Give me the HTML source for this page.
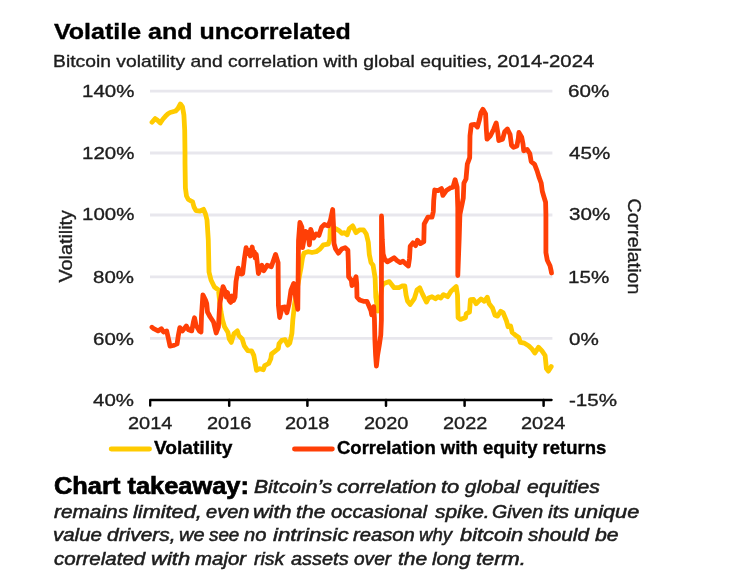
<!DOCTYPE html>
<html lang="en"><head><meta charset="utf-8"><title>Volatile and uncorrelated</title>
<style>
*{margin:0;padding:0;box-sizing:border-box}
h1,h2,p{font-size:inherit;font-weight:normal}
html,body{width:736px;height:573px;background:#fff;overflow:hidden}
body{filter:blur(0.4px);position:relative;font-family:"Liberation Sans",sans-serif;color:#1d1d1d}
.t{position:absolute;white-space:nowrap;line-height:1;transform-origin:0 0;font-weight:normal;font-style:normal;display:block;-webkit-text-stroke:0.35px currentColor}
.rot{position:absolute;width:0;height:0}
.rot span{position:absolute;left:0;white-space:nowrap;line-height:1;transform-origin:0 0;font-size:18.4px;-webkit-text-stroke:0.35px currentColor}
svg{position:absolute;left:0;top:0}
</style></head>
<body>
<svg width="736" height="573" viewBox="0 0 736 573">
<line x1="150" y1="91.2" x2="552.4" y2="91.2" stroke="#e8e7ed" stroke-width="2.8"/>
<line x1="150" y1="153" x2="552.4" y2="153" stroke="#e8e7ed" stroke-width="2.8"/>
<line x1="150" y1="215" x2="552.4" y2="215" stroke="#e8e7ed" stroke-width="2.8"/>
<line x1="150" y1="276.9" x2="552.4" y2="276.9" stroke="#e8e7ed" stroke-width="2.8"/>
<line x1="150" y1="338.4" x2="552.4" y2="338.4" stroke="#e8e7ed" stroke-width="2.8"/>
<g fill="none" stroke-linejoin="round" stroke-linecap="round" stroke-width="4.8">
<path d="M152.0,122.3 L155.2,118.6 L157.5,120.3 L160.3,123.0 L163.0,119.0 L165.4,116.3 L168.0,113.8 L170.2,112.5 L175.6,111.0 L178.0,108.5 L180.4,104.0 L182.5,107.0 L183.9,115.0 L184.7,130.0 L185.0,153.0 L185.0,163.0 L185.4,188.0 L186.5,196.0 L188.3,199.5 L192.6,201.8 L194.0,207.0 L196.0,210.6 L200.0,211.0 L203.5,209.3 L205.5,214.0 L207.0,220.0 L208.3,240.0 L209.0,272.0 L211.0,280.0 L214.4,287.0 L218.5,290.0 L219.5,300.0 L221.0,312.0 L222.5,320.0 L224.5,326.8 L227.9,332.2 L229.3,339.0 L231.3,342.4 L234.0,333.6 L237.4,330.9 L238.8,335.6 L242.2,339.0 L244.3,345.9 L247.7,350.6 L251.7,351.0 L253.8,355.4 L255.8,366.3 L256.5,370.3 L259.9,368.7 L263.3,369.7 L264.7,365.6 L268.7,363.5 L270.8,358.8 L271.5,354.0 L274.9,351.3 L278.3,348.6 L279.0,343.8 L281.7,340.4 L285.1,339.7 L287.8,345.2 L289.8,343.1 L291.9,333.6 L292.8,320.0 L293.7,312.0 L294.4,305.2 L296.0,295.0 L298.0,284.0 L300.0,273.0 L301.2,266.7 L302.5,258.0 L304.0,253.0 L308.0,251.7 L312.0,252.5 L316.2,251.7 L320.0,249.0 L323.4,244.9 L328.2,244.2 L329.8,239.5 L330.2,229.9 L332.0,228.0 L335.6,228.6 L339.0,230.6 L341.8,233.3 L344.5,232.7 L347.2,234.7 L349.3,228.6 L352.7,225.9 L356.0,232.7 L359.5,229.9 L363.5,229.9 L366.3,234.0 L368.3,242.2 L369.3,254.4 L371.0,262.6 L373.1,265.3 L374.4,273.5 L375.1,278.0 L375.8,297.2 L377.8,311.0 L380.0,300.0 L382.0,286.0 L383.9,283.6 L389.4,281.6 L394.1,287.7 L398.9,287.7 L402.0,286.0 L404.8,285.8 L406.1,295.3 L407.5,301.0 L410.2,304.5 L414.3,298.6 L417.0,289.9 L419.7,287.8 L422.4,293.9 L426.5,302.1 L428.6,298.0 L432.0,296.7 L435.4,298.7 L438.1,296.7 L440.8,298.0 L443.5,294.6 L447.6,296.7 L451.0,291.2 L456.2,286.5 L457.5,295.0 L458.1,317.8 L460.5,319.4 L465.4,317.8 L466.3,313.6 L469.5,312.0 L470.4,299.7 L473.5,299.4 L476.1,303.8 L481.0,298.9 L484.3,301.3 L487.3,297.2 L489.2,303.8 L492.5,307.9 L495.0,315.3 L497.5,316.1 L500.7,311.2 L503.2,312.8 L506.5,321.0 L508.1,326.8 L510.6,326.0 L512.2,332.5 L516.3,335.8 L518.8,337.5 L520.4,342.4 L524.5,343.2 L528.6,345.7 L531.9,348.9 L534.9,353.0 L538.5,347.3 L541.8,350.6 L545.1,355.5 L546.4,368.6 L548.3,371.1 L551.2,366.6" stroke="#ffcb00"/>
<path d="M152.0,327.2 L153.7,328.7 L158.0,330.9 L161.3,328.7 L163.5,332.0 L166.7,330.9 L168.4,338.5 L170.0,346.1 L173.3,345.5 L177.1,343.9 L178.2,336.3 L179.8,327.6 L182.5,330.9 L186.3,326.0 L188.5,329.8 L191.7,330.9 L193.4,322.2 L194.5,317.8 L196.1,325.4 L199.3,330.9 L201.0,332.0 L201.5,316.0 L202.9,294.8 L205.5,300.0 L206.7,303.5 L207.5,312.0 L210.2,317.0 L213.5,322.0 L216.2,333.0 L218.4,327.0 L219.8,303.5 L223.0,286.6 L225.0,291.0 L226.3,297.0 L227.5,292.5 L229.0,300.0 L230.7,302.4 L232.0,296.0 L233.5,300.5 L235.0,297.0 L236.0,281.7 L238.3,268.2 L239.3,273.0 L241.5,274.1 L242.7,273.5 L244.5,258.0 L246.1,247.6 L247.4,253.5 L248.8,250.3 L250.3,256.0 L252.2,247.0 L253.4,255.0 L254.3,251.7 L255.3,258.0 L256.3,254.4 L258.4,273.5 L261.8,265.3 L263.8,270.7 L267.2,265.3 L271.3,266.7 L275.6,254.4 L278.1,262.6 L278.4,305.2 L279.7,317.5 L282.2,307.3 L285.0,307.0 L286.9,312.7 L289.0,303.9 L291.0,290.2 L293.7,283.4 L295.8,298.4 L297.8,309.3 L298.5,240.8 L299.9,222.4 L301.9,227.2 L302.6,247.6 L305.3,231.3 L308.0,233.0 L309.4,244.9 L310.7,229.3 L313.5,238.1 L316.2,234.0 L318.9,235.4 L321.6,227.2 L324.4,224.5 L328.4,225.9 L330.5,220.0 L332.7,209.5 L333.6,227.2 L334.0,243.5 L335.6,249.0 L338.4,253.1 L341.8,249.0 L345.2,247.6 L347.9,250.3 L348.3,261.2 L348.6,276.8 L351.3,280.2 L352.0,285.6 L354.0,282.2 L356.0,276.8 L356.7,283.6 L357.0,297.2 L359.5,299.9 L363.5,301.3 L366.9,301.3 L369.0,306.0 L371.0,310.8 L371.7,314.9 L373.7,306.7 L374.4,317.6 L374.9,340.0 L375.6,355.0 L376.4,366.0 L377.6,355.0 L379.3,345.0 L380.8,335.0 L381.4,320.0 L381.5,216.0 L382.3,240.0 L383.1,254.0 L384.6,259.0 L387.3,261.9 L390.7,259.9 L394.1,257.8 L396.9,260.5 L400.3,262.6 L403.0,261.2 L405.7,263.9 L408.4,266.0 L409.5,258.5 L410.2,246.3 L412.9,242.9 L415.6,245.6 L417.4,240.2 L420.4,243.6 L423.8,241.6 L424.2,224.0 L427.9,217.1 L432.0,217.1 L433.3,211.7 L433.7,200.8 L434.7,190.0 L438.1,190.6 L441.5,188.6 L442.9,195.4 L446.3,190.6 L450.3,187.9 L453.0,187.2 L455.1,179.7 L457.1,187.2 L457.8,207.6 L457.8,275.5 L459.2,238.0 L459.9,214.4 L461.9,204.9 L463.3,198.1 L463.9,183.1 L466.0,179.0 L467.3,164.1 L469.7,157.6 L470.0,135.8 L471.3,124.9 L474.7,124.3 L477.4,127.0 L479.5,119.5 L480.9,112.7 L482.9,109.3 L485.6,114.0 L486.3,129.0 L487.0,139.2 L490.4,135.8 L493.8,129.0 L496.2,122.9 L497.9,133.1 L498.8,140.6 L502.6,139.2 L504.7,131.7 L507.4,129.0 L510.1,134.5 L511.5,145.3 L513.5,147.4 L516.9,146.0 L518.3,138.5 L518.9,132.4 L521.7,137.2 L523.0,144.0 L523.7,150.8 L527.1,149.4 L529.8,153.5 L531.2,161.7 L534.6,164.4 L537.1,170.9 L539.2,177.7 L541.2,183.1 L542.3,191.3 L543.9,196.7 L545.6,202.2 L545.9,214.4 L545.9,252.6 L547.3,260.2 L550.0,265.7 L551.2,271.1 L551.5,273.0" stroke="#ff3f06"/>
</g>
<path d="M150.2,405.7 V400.0 H551.6" stroke="#000" stroke-width="2.3" stroke-linejoin="round" stroke-linecap="round" fill="none"/>
<path d="M229.2,400.0 v5.7 M307.4,400.0 v5.7 M386,400.0 v5.7 M464.6,400.0 v5.7 M543.6,400.0 v5.7" stroke="#000" stroke-width="2.5" stroke-linecap="round" fill="none"/>
<path d="M111.2,449 H149.5" stroke="#ffcb00" stroke-width="4.9" stroke-linecap="round" fill="none"/>
<path d="M294.5,449 H332.3" stroke="#ff3f06" stroke-width="4.9" stroke-linecap="round" fill="none"/>
</svg>
<h1 class="t" style="left:53.79px;top:21.00px;font-size:22.6px;transform:scaleX(1.1066);font-weight:bold;color:#000;">Volatile and uncorrelated</h1>
<h2><span class="t" style="left:53.11px;top:53.00px;font-size:17px;transform:scaleX(1.1362);">Bitcoin volatility and correlation with global equities,</span> <span class="t" style="left:496.79px;top:53.00px;font-size:17px;transform:scaleX(1.1964);">2014-2024</span></h2>
<div class="t" style="left:81.61px;top:83.00px;font-size:17.4px;transform:scaleX(1.1761);">140%</div>
<div class="t" style="left:81.61px;top:145.00px;font-size:17.4px;transform:scaleX(1.1761);">120%</div>
<div class="t" style="left:81.61px;top:206.00px;font-size:17.4px;transform:scaleX(1.1761);">100%</div>
<div class="t" style="left:92.87px;top:269.00px;font-size:17.4px;transform:scaleX(1.1761);">80%</div>
<div class="t" style="left:92.87px;top:331.00px;font-size:17.4px;transform:scaleX(1.1761);">60%</div>
<div class="t" style="left:92.87px;top:392.00px;font-size:17.4px;transform:scaleX(1.1761);">40%</div>
<div class="t" style="left:568.48px;top:83.00px;font-size:17.4px;transform:scaleX(1.1848);">60%</div>
<div class="t" style="left:568.98px;top:145.00px;font-size:17.4px;transform:scaleX(1.1848);">45%</div>
<div class="t" style="left:568.57px;top:206.00px;font-size:17.4px;transform:scaleX(1.1848);">30%</div>
<div class="t" style="left:567.90px;top:269.00px;font-size:17.4px;transform:scaleX(1.1848);">15%</div>
<div class="t" style="left:568.73px;top:331.00px;font-size:17.4px;transform:scaleX(1.1848);">0%</div>
<div class="t" style="left:569.11px;top:392.00px;font-size:17.4px;transform:scaleX(1.1848);">-15%</div>
<div class="t" style="left:127.79px;top:415.00px;font-size:17.4px;transform:scaleX(1.1477);">2014</div>
<div class="t" style="left:207.11px;top:415.00px;font-size:17.4px;transform:scaleX(1.1477);">2016</div>
<div class="t" style="left:285.30px;top:415.00px;font-size:17.4px;transform:scaleX(1.1477);">2018</div>
<div class="t" style="left:363.87px;top:415.00px;font-size:17.4px;transform:scaleX(1.1477);">2020</div>
<div class="t" style="left:442.51px;top:415.00px;font-size:17.4px;transform:scaleX(1.1477);">2022</div>
<div class="t" style="left:521.19px;top:415.00px;font-size:17.4px;transform:scaleX(1.1477);">2024</div>
<div class="t" style="left:153.82px;top:440.00px;font-size:17.8px;transform:scaleX(1.0768);font-weight:bold;color:#000;">Volatility</div>
<div class="t" style="left:337.49px;top:440.00px;font-size:17.8px;transform:scaleX(1.0406);font-weight:bold;color:#000;">Correlation with equity returns</div>
<p><b class="t" style="left:53.90px;top:474.00px;font-size:23.8px;transform:scaleX(1.0678);font-weight:bold;color:#000;-webkit-text-stroke-width:0.7px;">Chart takeaway:</b> <i class="t" style="left:254.17px;top:477.00px;font-size:19px;transform:scaleX(1.1131);font-style:italic;-webkit-text-stroke-width:0.55px;">Bitcoin’s</i> <i class="t" style="left:337.45px;top:477.00px;font-size:19px;transform:scaleX(1.1210);font-style:italic;-webkit-text-stroke-width:0.55px;">correlation</i> <i class="t" style="left:441.23px;top:477.00px;font-size:19px;transform:scaleX(1.1515);font-style:italic;-webkit-text-stroke-width:0.55px;">to</i> <i class="t" style="left:465.04px;top:477.00px;font-size:19px;transform:scaleX(1.0784);font-style:italic;-webkit-text-stroke-width:0.55px;">global</i> <i class="t" style="left:526.64px;top:477.00px;font-size:19px;transform:scaleX(1.1115);font-style:italic;-webkit-text-stroke-width:0.55px;">equities</i> <i class="t" style="left:54.33px;top:502.00px;font-size:19px;transform:scaleX(1.0963);font-style:italic;-webkit-text-stroke-width:0.55px;">remains</i> <i class="t" style="left:132.92px;top:502.00px;font-size:19px;transform:scaleX(1.1425);font-style:italic;-webkit-text-stroke-width:0.55px;">limited,</i> <i class="t" style="left:205.56px;top:502.00px;font-size:19px;transform:scaleX(1.0546);font-style:italic;-webkit-text-stroke-width:0.55px;">even</i> <i class="t" style="left:253.38px;top:502.00px;font-size:19px;transform:scaleX(1.1365);font-style:italic;-webkit-text-stroke-width:0.55px;">with</i> <i class="t" style="left:296.25px;top:502.00px;font-size:19px;transform:scaleX(1.1144);font-style:italic;-webkit-text-stroke-width:0.55px;">the</i> <i class="t" style="left:331.07px;top:502.00px;font-size:19px;transform:scaleX(1.0686);font-style:italic;-webkit-text-stroke-width:0.55px;">occasional</i> <i class="t" style="left:434.58px;top:502.00px;font-size:19px;transform:scaleX(1.0989);font-style:italic;-webkit-text-stroke-width:0.55px;">spike.</i> <i class="t" style="left:491.90px;top:502.00px;font-size:19px;transform:scaleX(1.0300);font-style:italic;-webkit-text-stroke-width:0.55px;">Given</i> <i class="t" style="left:548.13px;top:502.00px;font-size:19px;transform:scaleX(1.1028);font-style:italic;-webkit-text-stroke-width:0.55px;">its</i> <i class="t" style="left:574.27px;top:502.00px;font-size:19px;transform:scaleX(1.1436);font-style:italic;-webkit-text-stroke-width:0.55px;">unique</i> <i class="t" style="left:53.35px;top:525.00px;font-size:19px;transform:scaleX(1.0771);font-style:italic;-webkit-text-stroke-width:0.55px;">value</i> <i class="t" style="left:107.15px;top:525.00px;font-size:19px;transform:scaleX(1.1007);font-style:italic;-webkit-text-stroke-width:0.55px;">drivers,</i> <i class="t" style="left:178.74px;top:525.00px;font-size:19px;transform:scaleX(1.0488);font-style:italic;-webkit-text-stroke-width:0.55px;">we</i> <i class="t" style="left:208.90px;top:525.00px;font-size:19px;transform:scaleX(0.9902);font-style:italic;-webkit-text-stroke-width:0.55px;">see</i> <i class="t" style="left:244.43px;top:525.00px;font-size:19px;transform:scaleX(1.0599);font-style:italic;-webkit-text-stroke-width:0.55px;">no</i> <i class="t" style="left:272.82px;top:525.00px;font-size:19px;transform:scaleX(1.1728);font-style:italic;-webkit-text-stroke-width:0.55px;">intrinsic</i> <i class="t" style="left:352.64px;top:525.00px;font-size:19px;transform:scaleX(1.0651);font-style:italic;-webkit-text-stroke-width:0.55px;">reason</i> <i class="t" style="left:418.89px;top:525.00px;font-size:19px;transform:scaleX(0.9793);font-style:italic;-webkit-text-stroke-width:0.55px;">why</i> <i class="t" style="left:459.83px;top:525.00px;font-size:19px;transform:scaleX(1.1511);font-style:italic;-webkit-text-stroke-width:0.55px;">bitcoin</i> <i class="t" style="left:527.78px;top:525.00px;font-size:19px;transform:scaleX(1.0887);font-style:italic;-webkit-text-stroke-width:0.55px;">should</i> <i class="t" style="left:594.64px;top:525.00px;font-size:19px;transform:scaleX(1.1195);font-style:italic;-webkit-text-stroke-width:0.55px;">be</i> <i class="t" style="left:54.17px;top:549.00px;font-size:19px;transform:scaleX(1.0796);font-style:italic;-webkit-text-stroke-width:0.55px;">correlated</i> <i class="t" style="left:151.16px;top:549.00px;font-size:19px;transform:scaleX(1.1582);font-style:italic;-webkit-text-stroke-width:0.55px;">with</i> <i class="t" style="left:195.33px;top:549.00px;font-size:19px;transform:scaleX(1.0769);font-style:italic;-webkit-text-stroke-width:0.55px;">major</i> <i class="t" style="left:253.54px;top:549.00px;font-size:19px;transform:scaleX(1.0265);font-style:italic;-webkit-text-stroke-width:0.55px;">risk</i> <i class="t" style="left:290.56px;top:549.00px;font-size:19px;transform:scaleX(1.0492);font-style:italic;-webkit-text-stroke-width:0.55px;">assets</i> <i class="t" style="left:353.69px;top:549.00px;font-size:19px;transform:scaleX(1.0041);font-style:italic;-webkit-text-stroke-width:0.55px;">over</i> <i class="t" style="left:397.66px;top:549.00px;font-size:19px;transform:scaleX(1.1025);font-style:italic;-webkit-text-stroke-width:0.55px;">the</i> <i class="t" style="left:431.83px;top:549.00px;font-size:19px;transform:scaleX(1.0714);font-style:italic;-webkit-text-stroke-width:0.55px;">long</i> <i class="t" style="left:476.33px;top:549.00px;font-size:19px;transform:scaleX(1.1526);font-style:italic;-webkit-text-stroke-width:0.55px;">term.</i></p>
<div class="rot" style="left:73.4px;top:282.36px"><span style="top:-15.58px;transform-origin:0 15.58px;transform:rotate(-90deg) scaleX(1.0751)">Volatility</span></div>
<div class="rot" style="left:627.3px;top:198.70px"><span style="top:-15.58px;transform-origin:0 15.58px;transform:rotate(90deg) scaleX(1.0643)">Correlation</span></div>
</body></html>
